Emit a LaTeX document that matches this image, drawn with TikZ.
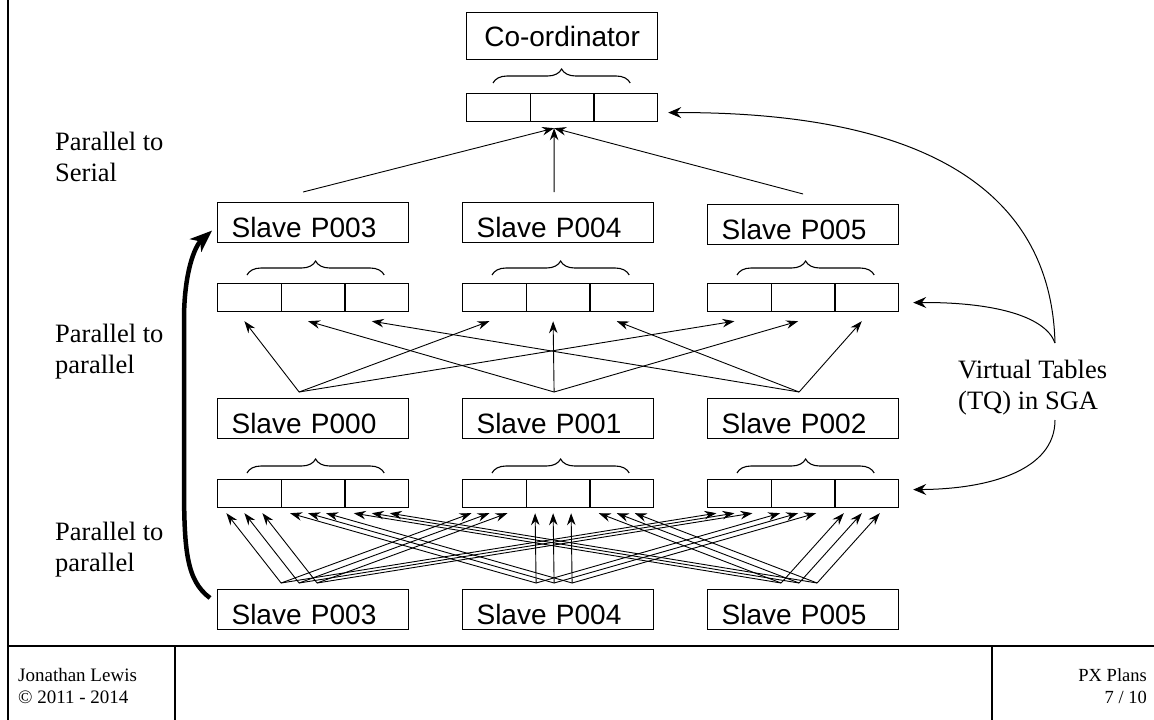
\documentclass[tikz,border=0pt]{standalone}
\usepackage{fontspec}
\setmainfont{Liberation Serif}
\setsansfont{Liberation Sans}
\usetikzlibrary{calc}
\usetikzlibrary{arrows.meta}
\usetikzlibrary{decorations.pathreplacing}

\tikzset{
  slave/.style={draw,line width=1.2pt,anchor=north west,minimum height=40pt,
    text width=163pt,inner xsep=14pt,inner ysep=0pt,align=left,
    text height=30pt,text depth=0pt,font=\sffamily\fontsize{28}{32}\selectfont},
  cell/.style={draw,line width=1.2pt,anchor=north west,minimum width=63.67pt,
    minimum height=28pt,inner sep=0pt},
  tqbrace/.style={decorate,decoration={brace,amplitude=14pt},line width=1.1pt},
  side/.style={anchor=north west,inner sep=0pt,align=left,
    font=\fontsize{26.5}{30.5}\selectfont},
  feed/.style={-{Stealth[length=12pt,width=8.5pt,inset=4pt]},line width=0.9pt},
  sga/.style={-{Stealth[length=13pt,width=11pt,inset=4.5pt]},line width=1pt},
}

\begin{document}
\begin{tikzpicture}[x=1pt,y=-1pt]
            % page frame and footer
            \useasboundingbox (0,0) rectangle (1154,720);
            \draw[line width=2pt] (8,0) -- (8,720);
            \draw[line width=1.3pt] (8,646) -- (1154,646);
            \draw[line width=1.3pt] (175,646) -- (175,720);
            \draw[line width=1.3pt] (992,646) -- (992,720);
            \node[anchor=west,inner sep=0pt,align=left,font=\fontsize{19}{22.5}\selectfont]
                (author) at (18,686) {Jonathan Lewis\\© 2011 - 2014};
            \node[anchor=east,inner sep=0pt,align=right,font=\fontsize{18.5}{22.5}\selectfont]
                (title) at (1147,686) {PX Plans\\7 / 10};
            % co-ordinator and its table
            \node[draw,line width=1.2pt,anchor=north west,minimum width=191pt,minimum height=47pt,
                inner sep=0pt,text height=20pt,text depth=0pt,font=\sffamily\fontsize{28}{32}\selectfont]
                (qco) at (466,12) {Co-ordinator};
            \foreach \j in {1,2,3}
                \node[cell] (qc\j) at ({466+(\j-1)*63.67},93) {};
            \draw[tqbrace] ($(qc1.north west)+(27,-10)$) -- ($(qc3.north east)+(-28,-10)$);
            % three rows of slaves
            \foreach \i/\x/\y/\n in {1/217/202/P003,2/462/202/P004,3/707/204/P005}
                \node[slave] (sa\i) at (\x,\y) {Slave \n};
            \foreach \i/\x/\n in {1/217/P000,2/462/P001,3/707/P002}
                \node[slave] (sb\i) at (\x,398) {Slave \n};
            \foreach \i/\x/\n in {1/217/P003,2/462/P004,3/707/P005}
                \node[slave] (sc\i) at (\x,589) {Slave \n};
            % virtual tables
            \foreach \i/\x in {1/217,2/462,3/707} {
                \foreach \j in {1,2,3} {
                    \node[cell] (qa\i\j) at ({\x+(\j-1)*63.67},283) {};
                    \node[cell] (qb\i\j) at ({\x+(\j-1)*63.67},479) {};
                }
                \draw[tqbrace] ($(qa\i1.north west)+(30,-8)$) -- ($(qa\i3.north east)+(-25,-8)$);
                \draw[tqbrace] ($(qb\i1.north west)+(30,-6)$) -- ($(qb\i3.north east)+(-25,-6)$);
            }
            % parallel to serial
            \foreach \j/\dx in {1/-10,2/-4,3/0}
                \draw[feed] ($(sa\j.north)+(\dx,-10)$) -- ($(qc2.south)+(-8,6)$);
            % parallel to parallel
            \foreach \i in {1,2,3}
                \foreach \j/\dx in {1/-14,2/-4,3/-4}
                    \draw[feed] ($(sb\j.north)+(\dx,-6)$) -- ($(qa\i\j.south)+(-5,9)$);
            \foreach \i in {1,2,3}
                \foreach \j/\dx in {1/-14,2/-4,3/-4}
                    \foreach \k in {-18,0,18}
                        \draw[feed] ($(sc\j.north)+(\dx,-6)+(\k,0)$) -- ($(qb\i\j.south)+(-5,5)+(\k,0)$);
            % labels on the left
            \node[side] (lps) at (55,132) {Parallel to\\Serial};
            \node[side] (lpp) at (55,324) {Parallel to\\parallel};
            \node[side] (lpq) at (55,522) {Parallel to\\parallel};
            \draw[line width=4.5pt,-{Stealth[length=22pt,width=17pt,inset=6pt]}]
                ($(sc1.north west)+(-7,9)$) .. controls (186,580) and (184,550) .. (184,480)
                -- (184,320) .. controls (184,272) and (195,246) .. ($(sa1.west)+(-5,8)$);
            % virtual tables label
            \node[side] (lvt) at (958,360) {Virtual Tables\\(TQ) in SGA};
            \coordinate (vtu) at (1055,343);
            \coordinate (vtd) at (1055,420);
            \draw[sga] (vtu) .. controls (1050,150) and (850,112) .. ($(qc3.east)+(10,5)$);
            \draw[sga] (vtu) .. controls (1045,315) and (990,302) .. ($(qa33.east)+(14,5)$);
            \draw[sga] (vtd) .. controls (1055,470) and (990,489) .. ($(qb33.east)+(14,-4)$);
\end{tikzpicture}
\end{document}
